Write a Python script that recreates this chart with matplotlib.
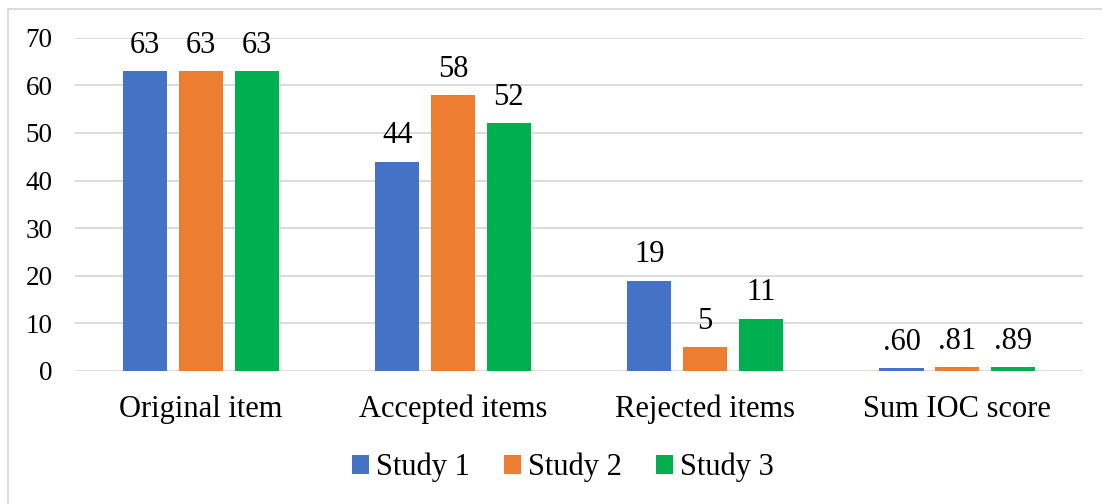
import numpy as np
import matplotlib.pyplot as plt
from matplotlib.patches import Rectangle

plt.rcParams['font.family'] = ['Liberation Serif', 'DejaVu Serif']

categories = ["Original item", "Accepted items", "Rejected items", "Sum IOC score"]
series = ["Study 1", "Study 2", "Study 3"]
study1 = [63, 44, 19, 0.60]
study2 = [63, 58, 5, 0.81]
study3 = [63, 52, 11, 0.89]
labels1 = ["63", "44", "19", ".60"]
labels2 = ["63", "58", "5", ".81"]
labels3 = ["63", "52", "11", ".89"]

colors = ["#4472C4", "#ED7D31", "#00B050"]

fig = plt.figure(figsize=(11.02, 5.04), dpi=100)
ax = fig.add_axes([0.068, 0.264, 0.915, 0.661])

x = np.arange(len(categories))
width = 0.175
step = 0.221
for i, (vals, labs) in enumerate(zip([study1, study2, study3], [labels1, labels2, labels3])):
    bars = ax.bar(x + (i - 1) * step, vals, width, color=colors[i], label=series[i], zorder=3)
    for b, lab in zip(bars, labs):
        ax.annotate(lab, (b.get_x() + b.get_width() / 2, b.get_height()),
                    xytext=(0, 8), textcoords="offset points",
                    ha="center", va="bottom", fontsize=22)

ax.set_xlim(-0.5, len(categories) - 0.5)
ax.set_ylim(0, 70)
ax.set_yticks(range(0, 71, 10))
ax.set_xticks(x)
ax.set_xticklabels(categories, fontsize=22)
ax.tick_params(axis="y", labelsize=19.5, length=0, pad=16)
ax.tick_params(axis="x", length=0, pad=17)
ax.grid(axis="y", color="#D9D9D9", linewidth=1.3, zorder=0)
for s in ax.spines.values():
    s.set_visible(False)

fig.legend(loc="center", bbox_to_anchor=(0.511, 0.072), ncol=3, frameon=False,
           fontsize=22, handlelength=0.55, handleheight=0.55, handletextpad=0.25,
           columnspacing=1.1)

fig.patches.append(Rectangle((8 / 1102, -0.05), 1.1, 1 - 9 / 504 + 0.05,
                             transform=fig.transFigure, fill=False,
                             edgecolor="#D9D9D9", linewidth=1.3))

fig.savefig("out.png", dpi=100)
